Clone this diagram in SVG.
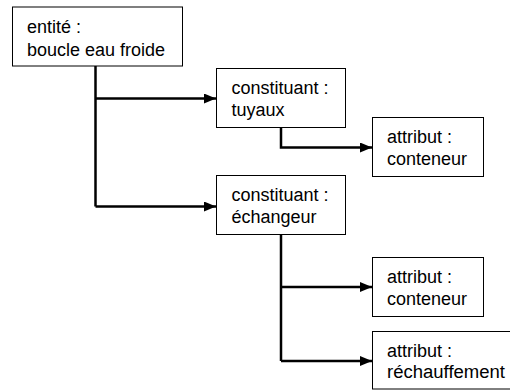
<svg xmlns="http://www.w3.org/2000/svg" width="510" height="392" viewBox="0 0 510 392">
<style>
.box{fill:#fff;stroke:#000;stroke-width:1}
.t{font-family:"Liberation Sans",Arial,sans-serif;font-size:18px;fill:#000}
.c{fill:none;stroke:#000;stroke-width:2.5}
</style>
<defs>
<marker id="ah" viewBox="0 0 12 10" refX="12" refY="5" markerWidth="12" markerHeight="10" markerUnits="userSpaceOnUse" orient="auto">
<path d="M0,0 L12,5 L0,10 Z" fill="#000"/>
</marker>
</defs>
<rect width="510" height="392" fill="#fff"/>
<g id="connectors">
<path class="c" d="M95.5,66 V206.5"/>
<path class="c" d="M95.5,98.5 H216" marker-end="url(#ah)"/>
<path class="c" d="M95.5,206.5 H216" marker-end="url(#ah)"/>
<path class="c" d="M281,128 V147.5 H372" marker-end="url(#ah)"/>
<path class="c" d="M281,235 V361"/>
<path class="c" d="M281,287 H372" marker-end="url(#ah)"/>
<path class="c" d="M281,361 H372" marker-end="url(#ah)"/>
</g>
<g id="n1"><rect class="box" x="12.5" y="7" width="170" height="59"/><text class="t" x="27" y="33">entité :</text><text class="t" x="27" y="55.5">boucle eau froide</text></g>
<g id="n2"><rect class="box" x="216.5" y="68.5" width="129" height="59"/><text class="t" x="231.5" y="93.5">constituant :</text><text class="t" x="231.5" y="115.5">tuyaux</text></g>
<g id="n3"><rect class="box" x="372.5" y="117.5" width="111" height="59"/><text class="t" x="387" y="142.5">attribut :</text><text class="t" x="387" y="164.5">conteneur</text></g>
<g id="n4"><rect class="box" x="216.5" y="175.5" width="129" height="59"/><text class="t" x="231.5" y="200.5">constituant :</text><text class="t" x="231.5" y="222.5">échangeur</text></g>
<g id="n5"><rect class="box" x="372.5" y="257.5" width="111" height="59"/><text class="t" x="387" y="282.5">attribut :</text><text class="t" x="387" y="304.5">conteneur</text></g>
<g id="n6"><rect class="box" x="372.5" y="331.5" width="140" height="57.5"/><text class="t" x="387" y="356.5">attribut :</text><text class="t" x="387" y="378" textLength="118" lengthAdjust="spacingAndGlyphs">réchauffement</text></g>
</svg>
